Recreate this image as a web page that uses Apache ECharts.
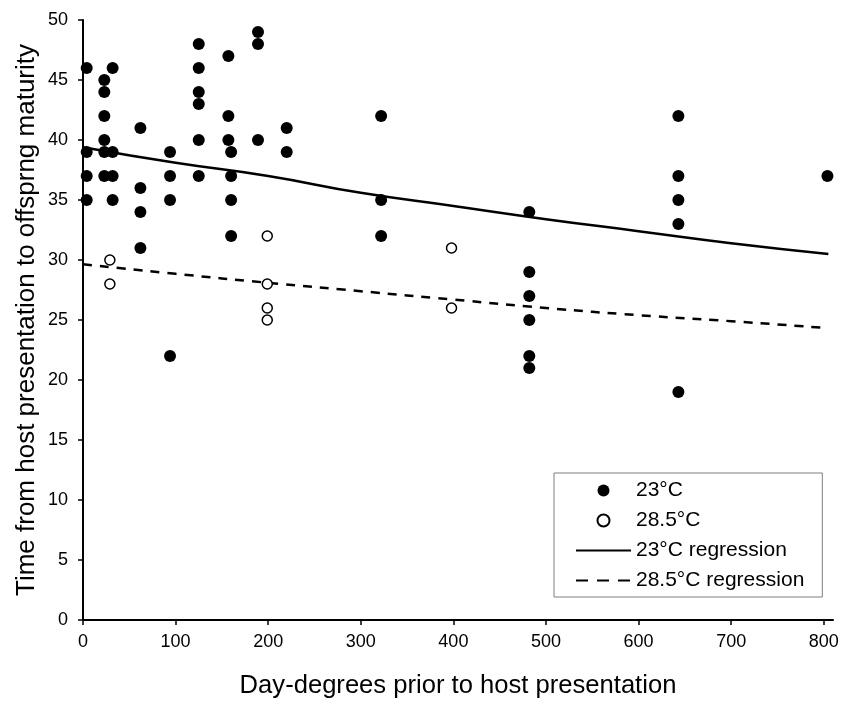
<!DOCTYPE html>
<html>
<head>
<meta charset="utf-8">
<script src="https://cdn.jsdelivr.net/npm/echarts@6/dist/echarts.min.js"></script>
<style>
html,body{margin:0;padding:0;background:#fff;}
#chart{width:842px;height:704px;}
</style>
</head>
<body>
<div id="chart"></div>
<script>
// 23°C observations: [day-degrees, time]
const x23 = [4,4,4,4, 23,23,23,23,23,23, 32,32,32,32, 62,62,62,62, 94,94,94,94, 125,125,125,125,125,125, 157,157,157, 160,160,160,160, 189,189,189, 220,220, 322,322,322, 482,482,482,482,482,482, 643,643,643,643,643, 804];
const y23 = [46,39,37,35, 45,44,42,40,39,37, 46,39,37,35, 41,36,34,31, 39,37,35,22, 48,46,44,43,40,37, 47,42,40, 39,37,35,32, 49,48,40, 41,39, 42,35,32, 34,29,27,25,22,21, 42,37,35,33,19, 37];
// 28.5°C observations
const x285 = [29,29, 199,199,199,199, 398,398];
const y285 = [30,28, 32,28,26,25, 31,26];
// regression curves
const regX23 = [0,100,200,300,400,500,600,700,805];
const regY23 = [39.4,38.1,37.0,35.6,34.5,33.4,32.4,31.4,30.5];
const regX285 = [0,100,200,300,400,500,600,700,800];
const regY285 = [29.65,28.85,28.1,27.4,26.7,26.0,25.4,24.9,24.35];
// ticks
const xTicks = [0,100,200,300,400,500,600,700,800];
const yTicks = [0,5,10,15,20,25,30,35,40,45,50];
const seriesNames = ['23°C','28.5°C','23°C regression','28.5°C regression'];

const zip = (a,b) => a.map((v,i)=>[v,b[i]]);
const font = '"Liberation Sans", Arial, sans-serif';
const hiddenSymbol = {color:'rgba(0,0,0,0)',borderWidth:0,opacity:0};

const chart = echarts.init(document.getElementById('chart'), null, {renderer:'canvas'});
chart.setOption({
  animation:false,
  backgroundColor:'#ffffff',
  grid:{left:83,right:9,top:20,bottom:82,containLabel:false},
  xAxis:{
    type:'value',min:0,max:810,
    name:'Day-degrees prior to host presentation',
    nameLocation:'middle',nameGap:53,nameMoveOverlap:false,
    nameTextStyle:{fontFamily:font,fontSize:25.6,color:'#000'},
    axisLine:{lineStyle:{color:'#000',width:2}},
    axisTick:{show:true,length:5,inside:false,lineStyle:{color:'#000',width:1.5},customValues:xTicks},
    axisLabel:{fontFamily:font,fontSize:18,color:'#000',margin:13,customValues:xTicks},
    splitLine:{show:false}
  },
  yAxis:{
    type:'value',min:0,max:50,interval:5,
    name:'Time from host presentation to offsprng maturity',
    nameLocation:'middle',nameGap:43,nameMoveOverlap:false,
    nameTextStyle:{fontFamily:font,fontSize:26,color:'#000'},
    axisLine:{show:true,lineStyle:{color:'#000',width:2}},
    axisTick:{show:true,length:5,inside:false,lineStyle:{color:'#000',width:1.5},customValues:yTicks},
    axisLabel:{fontFamily:font,fontSize:18,color:'#000',margin:15,customValues:yTicks},
    splitLine:{show:false}
  },
  legend:{
    orient:'vertical',
    left:554,top:473,
    padding:[7,18,6,21],
    itemWidth:55,itemHeight:12,itemGap:9,
    borderColor:'#7f7f7f',borderWidth:1,
    backgroundColor:'#fff',
    textStyle:{fontFamily:font,fontSize:21,lineHeight:21,color:'#000'},
    data:[
      {name:seriesNames[0]},
      {name:seriesNames[1]},
      {name:seriesNames[2],itemStyle:hiddenSymbol},
      {name:seriesNames[3],itemStyle:hiddenSymbol,lineStyle:{type:[12,9]}}
    ],
    selectedMode:false
  },
  series:[
    {name:seriesNames[2],type:'line',data:zip(regX23,regY23),smooth:true,symbol:'none',
     lineStyle:{color:'#000',width:2.5,type:'solid'},itemStyle:{color:'#000'},z:1},
    {name:seriesNames[3],type:'line',data:zip(regX285,regY285),smooth:true,symbol:'none',
     lineStyle:{color:'#000',width:2.5,type:[9,8]},itemStyle:{color:'#000'},z:1},
    {name:seriesNames[0],type:'scatter',data:zip(x23,y23),symbol:'circle',symbolSize:12,
     itemStyle:{color:'#000',opacity:1},z:3},
    {name:seriesNames[1],type:'scatter',data:zip(x285,y285),symbol:'circle',symbolSize:10,
     itemStyle:{color:'#fff',borderColor:'#000',borderWidth:1.5,opacity:1},z:4}
  ]
});
</script>
</body>
</html>
